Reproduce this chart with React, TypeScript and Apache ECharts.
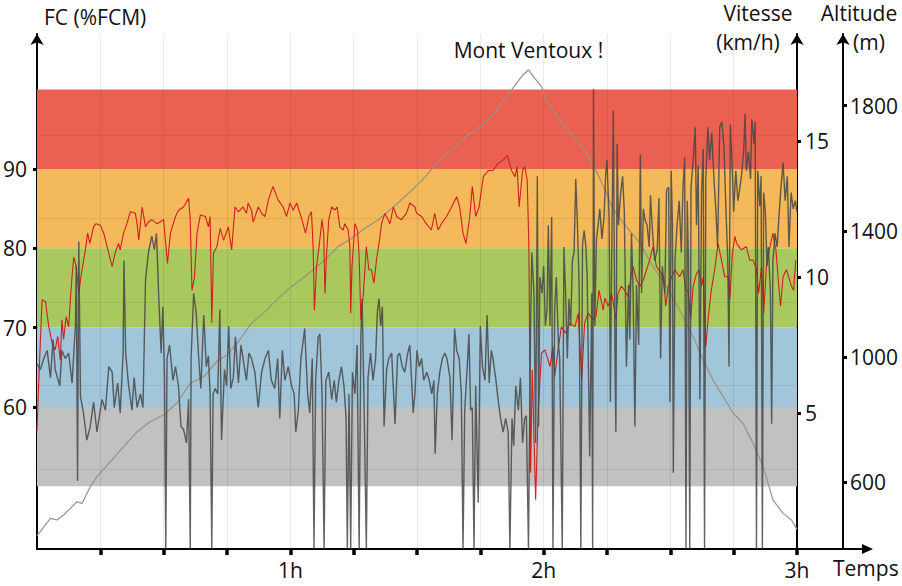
import { useEffect, useRef } from "react";
import * as echarts from "echarts";

const FONT = "'Open Sans', 'Noto Sans', sans-serif";

const zoneBounds = [50, 60, 70, 80, 90, 100];
const zoneColors = ["#c1c1c1", "#a1c5d9", "#a9c95e", "#f3b95b", "#ea6152"];
const hrTicks = [60, 70, 80, 90];
const speedTicks = [5, 10, 15];
const altitudeTicks = [600, 1000, 1400, 1800];
const quarterTicks = [15, 30, 45, 60, 75, 90, 105, 120, 135, 150, 165, 180];
const hourTicks = [60, 120, 180];
const gridSteps = [1, 2, 3, 4, 5];

// [minutes, %FCM]
const heartRate: [number, number][] = [
  [0, 57], [0.4, 63], [1.2, 73.5], [2.0, 73.3], [2.8, 70.1], [3.6, 68.0], [4.3, 67.2], [4.9, 68.9], [5.5, 65.9], [5.9, 71.0],
  [6.3, 68.5], [6.9, 71.4], [7.5, 70.1], [7.9, 73.5], [8.3, 76.4], [8.7, 78.9], [9.3, 77.7], [9.9, 74.3], [10.5, 76.8], [11.4, 79.6],
  [12.0, 81.9], [12.5, 80.6], [13.4, 82.7], [14.0, 83.1], [15.0, 82.9], [15.8, 81.9], [16.6, 80.2], [17.4, 78.5], [17.8, 77.7], [18.5, 79.4],
  [19.3, 80.6], [19.7, 79.8], [20.5, 81.9], [21.3, 83.1], [22.1, 84.6], [23.3, 84.4], [23.7, 83.1], [24.1, 81.0], [24.9, 85.2], [25.7, 82.7],
  [26.4, 83.3], [27.2, 83.6], [28.4, 83.1], [30.0, 83.6], [30.4, 81.0], [30.9, 78.1], [31.6, 81.9], [32.8, 84.0], [33.5, 84.8], [34.7, 85.2],
  [35.9, 86.3], [36.3, 83.6], [36.7, 74.7], [37.3, 76.4], [37.9, 81.9], [38.7, 84.2], [39.9, 84.0], [40.6, 82.7], [41.0, 84.0], [41.4, 70.6],
  [41.8, 79.4], [42.6, 80.2], [43.4, 82.5], [44.2, 81.0],
  [45.3, 82.7], [46.1, 79.8], [46.9, 85.2], [47.7, 84.6], [48.8, 85.2], [49.6, 84.4], [50.0, 85.7], [50.8, 84.8], [51.2, 83.3], [52.4, 85.2],
  [53.2, 84.4], [54.0, 84.0], [54.8, 86.1], [55.9, 87.8], [57.1, 86.1], [58.3, 85.2], [59.1, 84.0], [59.9, 85.7], [60.7, 84.8], [61.5, 85.7],
  [62.3, 84.4], [63.0, 83.1], [63.6, 81.9], [64.4, 84.0], [65.0, 84.6], [65.4, 80.2], [65.7, 72.2], [66.2, 77.7], [66.8, 80.2], [67.5, 83.6],
  [67.9, 81.9], [68.2, 74.3], [68.6, 79.4], [69.1, 83.6], [69.8, 85.2], [70.5, 84.8], [71.1, 85.2], [71.7, 82.7], [72.5, 82.3], [72.9, 83.1],
  [73.7, 82.3], [74.1, 80.2], [74.3, 71.8], [74.6, 77.7], [75.3, 83.1], [75.9, 82.3], [76.3, 78.9], [76.7, 71.0], [77.3, 74.3], [78.0, 80.2],
  [78.6, 77.3], [79.2, 77.3], [79.8, 75.6], [80.4, 78.5], [81.0, 80.6], [81.6, 83.1], [82.4, 84.4], [83.6, 83.1], [84.4, 85.2], [85.2, 84.0],
  [86.3, 83.6], [87.5, 84.4], [88.3, 85.7],
  [89.5, 85.2], [89.9, 84.4], [91.1, 84.0], [91.9, 83.3], [93.4, 82.3], [94.2, 84.4], [95.0, 82.3], [95.8, 83.1], [97.0, 84.0], [98.2, 85.2],
  [99.4, 86.5], [100.1, 85.2], [100.9, 81.9], [101.6, 80.6], [102.5, 84.0], [103.1, 87.8], [103.9, 84.0], [104.7, 85.2], [105.7, 89.0], [106.9, 89.8],
  [108.0, 89.8], [109.2, 90.7], [110.4, 91.1], [111.4, 91.7], [112.4, 89.8], [113.2, 89.0], [113.7, 90.3], [114.2, 85.2], [115.0, 89.8], [115.5, 90.3],
  [116.1, 88.6], [116.5, 80.2], [116.7, 65.9], [116.9, 51.7], [117.3, 64.7], [117.7, 56.3], [118.1, 48.3], [118.7, 59.6], [119.5, 66.8], [120.3, 67.2],
  [121.5, 65.1], [122.2, 67.6], [122.6, 63.8], [123.4, 67.2], [124.2, 70.1], [125.2, 69.3], [126.2, 70.6], [127.4, 70.1], [128.2, 71.8], [129.0, 63.4],
  [129.7, 70.6], [130.5, 71.8], [131.7, 71.0], [132.4, 71.4], [133.1, 74.7],
  [134.1, 72.2], [134.5, 73.7], [135.3, 72.7], [136.1, 74.3], [136.5, 73.1], [137.1, 71.0], [137.6, 74.3], [138.4, 75.2], [139.2, 74.7], [140.0, 73.9],
  [140.8, 76.8], [141.2, 77.7], [142.0, 76.0], [142.8, 75.2], [143.6, 76.0], [145.1, 78.5], [145.9, 80.2], [146.7, 77.7], [147.9, 76.8], [148.5, 75.6],
  [148.9, 72.7], [149.5, 75.2], [150.3, 76.4], [151.1, 77.3], [152.2, 76.4], [153.0, 77.3], [153.7, 74.7], [154.2, 74.7], [154.8, 71.0], [155.4, 75.2],
  [156.2, 76.8], [156.8, 77.3], [157.4, 75.2], [157.8, 76.4], [158.4, 67.6], [159.0, 71.4], [159.7, 74.7], [160.5, 77.3], [161.3, 80.6], [162.1, 78.5],
  [162.9, 76.4], [163.7, 76.4], [164.1, 73.5], [164.7, 79.4], [165.3, 81.5], [165.7, 80.6], [166.8, 79.8], [168.0, 80.2], [168.8, 78.5], [169.6, 78.5],
  [170.4, 77.3], [170.9, 74.3], [171.6, 77.7], [172.1, 71.8], [172.8, 78.1], [173.6, 80.2], [174.3, 81.9], [175.0, 79.8], [175.5, 76.4], [176.1, 72.7],
  [176.7, 76.4], [177.5, 77.3], [178.7, 75.2], [179.2, 74.7], [179.7, 78.5],
];

// [minutes, km/h]
const speed: [number, number][] = [
  [0, 6.8], [0.8, 6.6], [1.6, 7.0], [2.4, 7.3], [3.2, 6.3], [3.8, 7.7], [4.3, 6.6], [5.4, 6.0], [5.9, 7.3], [6.7, 7.0],
  [7.5, 7.2], [8.3, 6.1], [9.1, 8.2], [9.3, 10.4], [9.6, 2.5], [9.9, 11.3], [10.3, 5.6], [11.0, 5.0], [11.8, 4.0], [12.6, 4.5],
  [13.4, 5.4], [14.2, 4.3], [15.4, 5.5], [16.2, 5.1], [17.0, 6.7], [17.8, 6.5], [18.3, 5.2], [19.1, 6.1], [19.7, 5.0], [20.4, 7.2],
  [20.6, 10.6], [21.0, 7.2], [21.7, 6.0], [22.5, 5.1], [23.0, 6.3], [23.7, 5.2], [24.5, 5.7], [25.1, 5.2], [25.7, 9.9], [26.4, 10.9],
  [27.2, 11.5], [27.8, 11.0], [28.3, 11.6], [28.8, 9.4], [29.4, 7.2], [29.8, 8.9], [30.2, 6.3], [30.5, 0], [30.8, 7.0], [31.4, 7.5],
  [32.2, 6.2], [32.8, 6.7], [33.5, 6.0], [34.1, 4.5], [34.7, 4.4], [35.4, 3.9], [35.9, 5.5], [36.3, 0], [36.5, 7.0], [37.1, 9.4],
  [37.7, 8.7], [38.3, 7.0], [38.8, 5.9], [39.5, 8.6], [40.1, 6.7], [40.6, 7.1], [41.0, 5.7], [41.4, 0], [41.7, 5.7], [42.2, 5.9],
  [42.8, 5.7], [43.3, 8.8], [43.7, 4.0], [44.4, 6.6],
  [44.9, 6.0], [45.4, 8.2], [45.9, 5.9], [46.5, 6.3], [47.0, 7.8], [47.7, 6.1], [48.3, 7.5], [48.8, 7.0], [49.6, 6.2], [50.2, 7.2],
  [50.8, 7.0], [51.6, 6.5], [52.4, 5.2], [53.2, 6.5], [54.0, 7.0], [54.8, 7.3], [55.5, 6.2], [56.3, 5.9], [57.0, 7.0], [57.5, 4.8],
  [58.1, 7.3], [58.7, 6.2], [59.5, 6.7], [60.3, 6.0], [60.9, 5.7], [61.3, 4.3], [61.9, 5.1], [62.5, 7.0], [63.0, 7.6], [63.4, 8.1],
  [64.1, 5.7], [64.6, 5.0], [65.2, 7.0], [65.6, 0], [66.0, 6.2], [66.6, 7.8], [67.0, 7.9], [67.5, 5.7], [68.0, 0], [68.4, 6.2],
  [69.1, 6.5], [69.8, 5.5], [70.4, 6.2], [70.9, 5.4], [71.5, 6.2], [72.1, 6.7], [72.7, 6.0], [73.2, 4.8], [73.5, 0], [73.9, 5.7],
  [74.3, 0], [74.7, 6.5], [75.3, 5.7], [75.8, 7.5], [76.3, 0], [76.7, 7.8], [77.0, 9.2], [77.5, 5.0], [78.0, 0], [78.4, 6.3],
  [79.0, 7.2], [79.6, 6.2], [80.2, 7.0], [80.6, 8.7], [81.0, 9.2], [81.4, 8.2], [81.8, 8.9], [82.2, 4.5], [82.8, 6.6], [83.3, 7.0],
  [84.0, 7.2], [84.8, 4.6], [85.4, 7.1], [85.9, 7.2], [86.5, 6.7], [87.1, 6.5], [87.8, 7.2], [88.3, 7.5], [89.1, 5.0],
  [89.5, 5.7], [90.0, 7.3], [90.5, 6.7], [91.1, 7.0], [91.6, 6.2], [92.3, 6.5], [92.9, 6.2], [93.5, 5.7], [94.0, 6.2], [94.3, 3.5],
  [94.8, 5.7], [95.4, 6.5], [96.0, 7.0], [96.6, 7.2], [97.1, 7.0], [97.8, 6.3], [98.3, 4.0], [98.9, 8.1], [99.4, 7.3], [100.0, 7.0],
  [100.5, 5.7], [100.9, 0], [101.3, 5.1], [101.9, 6.7], [102.3, 7.9], [102.7, 5.1], [103.1, 5.2], [103.5, 0], [103.9, 6.0], [104.5, 1.7],
  [105.0, 8.2], [105.5, 6.7], [106.1, 6.2], [106.6, 8.6], [107.1, 6.1], [107.6, 7.3], [108.0, 7.0], [108.7, 6.2], [109.2, 5.5], [109.8, 4.8],
  [110.4, 4.3], [111.0, 4.8], [111.6, 4.3], [112.0, 0], [112.5, 4.8], [112.9, 3.8], [113.4, 6.0], [114.0, 5.1], [114.5, 6.3], [115.0, 3.9],
  [115.5, 4.8], [115.9, 4.9], [116.4, 0], [116.9, 8.2], [117.2, 10.9], [117.7, 9.4], [118.1, 3.9], [118.5, 13.7], [118.8, 4.5], [119.1, 10.0],
  [119.6, 9.4], [120.0, 10.4], [120.4, 8.2], [120.8, 8.8], [121.1, 11.9], [121.5, 8.2], [121.9, 12.2], [122.2, 0], [122.6, 8.8], [123.0, 10.0],
  [123.5, 7.5], [123.8, 7.0], [124.4, 0], [124.8, 11.1], [125.2, 9.4], [125.6, 7.0], [126.0, 9.2], [126.4, 8.2], [126.8, 10.6], [127.2, 10.9],
  [127.6, 13.6], [128.0, 11.9], [128.4, 9.7], [128.8, 0], [129.2, 11.2], [129.6, 11.7], [130.0, 11.1], [130.3, 10.0], [130.9, 3.4], [131.4, 9.4],
  [131.6, 0], [131.8, 16.9], [132.1, 8.2], [132.5, 11.4], [132.9, 11.9], [133.3, 12.5], [133.8, 11.4],
  [134.3, 12.2], [134.7, 13.8], [135.0, 14.3], [135.5, 12.1], [135.8, 5.4], [136.1, 10.6], [136.5, 16.1], [136.9, 6.8], [137.1, 4.3], [137.4, 14.9],
  [137.7, 11.9], [138.2, 13.0], [138.7, 13.7], [139.1, 12.4], [139.6, 6.7], [140.1, 9.7], [140.4, 7.7], [140.8, 11.6], [141.2, 9.4], [141.6, 4.5],
  [142.0, 9.7], [142.5, 7.5], [142.9, 14.5], [143.2, 9.4], [143.6, 12.5], [144.0, 12.1], [144.5, 11.9], [145.0, 11.1], [145.3, 13.0], [145.8, 11.6],
  [146.3, 10.6], [146.9, 11.0], [147.3, 12.9], [147.7, 7.0], [148.1, 10.4], [148.7, 9.4], [149.1, 13.2], [149.6, 13.3], [149.9, 5.4], [150.2, 13.9],
  [150.5, 11.9], [150.7, 2.8], [151.1, 10.6], [151.6, 11.9], [152.1, 12.8], [152.6, 10.9], [153.0, 13.3], [153.4, 14.4], [153.7, 0], [154.0, 12.8],
  [154.3, 10.6], [154.6, 0], [154.9, 13.3], [155.4, 14.3], [155.9, 15.5], [156.2, 11.9], [156.6, 14.1], [157.0, 5.5], [157.4, 13.1], [157.8, 14.7],
  [158.1, 0], [158.4, 13.6], [158.9, 15.5], [159.3, 14.3], [159.8, 15.3], [160.3, 13.7], [160.8, 12.4], [161.2, 11.1], [161.7, 15.5], [162.2, 15.7],
  [162.7, 14.8], [163.1, 12.8], [163.6, 10.6], [163.9, 6.7], [164.2, 15.6], [164.6, 14.3], [165.0, 12.4], [165.5, 13.9], [166.0, 12.8], [166.5, 13.3],
  [166.9, 13.8], [167.4, 14.7], [167.7, 16.0], [168.0, 13.9], [168.5, 14.6], [169.0, 13.6], [169.3, 15.8], [169.8, 14.9], [170.1, 15.7], [170.4, 0],
  [170.7, 13.9], [171.2, 12.6], [171.5, 13.7], [171.8, 0], [172.1, 13.1], [172.5, 12.4], [172.9, 10.4], [173.2, 11.1], [173.7, 9.5], [174.0, 4.6],
  [174.3, 10.6], [174.8, 11.6], [175.3, 11.1], [175.8, 12.4], [176.2, 13.3], [176.7, 14.2], [177.2, 12.8], [177.7, 13.7], [178.1, 11.1], [178.6, 13.1],
  [179.1, 12.5], [179.6, 12.8], [180.0, 12.4],
];

// [minutes, m]
const altitude: [number, number][] = [
  [0, 430], [3.2, 485], [4.7, 480], [6.3, 496], [7.9, 517], [9.5, 538], [10.7, 533], [12.6, 586], [14.2, 618], [17.4, 666],
  [20.5, 714], [23.7, 761], [26.8, 793], [30.0, 815], [33.1, 852], [36.3, 915], [39.5, 937], [42.6, 985], [45.0, 1006], [47.7, 1048],
  [50.8, 1107], [54.0, 1144], [57.1, 1186], [60.3, 1224], [63.4, 1255], [65.8, 1282], [68.2, 1309], [71.3, 1351], [74.5, 1378], [77.6, 1409],
  [80.8, 1436], [84.0, 1473], [87.1, 1510], [89.5, 1540], [92.3, 1579], [95.4, 1627], [98.6, 1664], [101.7, 1702], [104.9, 1733], [108.0, 1771],
  [111.2, 1829], [113.6, 1872], [115.1, 1898], [116.4, 1914], [117.9, 1887], [119.5, 1861], [120.7, 1813], [123.8, 1755], [127.0, 1702], [130.1, 1648],
  [132.5, 1590], [134.1, 1545], [136.5, 1468], [139.6, 1415], [142.8, 1362], [145.9, 1287], [149.1, 1224], [152.2, 1149], [155.4, 1064], [157.8, 990],
  [160.1, 926], [162.5, 873], [164.9, 820], [167.2, 788], [169.6, 724], [172.0, 650], [174.3, 544], [176.7, 501], [178.7, 480], [180.0, 450],
];

const labelStyle = { fontSize: 21, color: "#111", fontFamily: FONT };
const blackLine = { color: "#000", width: 2 };
const tickStyle = { color: "#000", width: 3 };
const plain = (v: number) => String(v);

function textEl(text: string, x: number, y: number, align: string) {
  return {
    type: "text",
    x,
    y,
    silent: true,
    style: {
      text,
      fill: "#111",
      fontSize: 21,
      fontFamily: FONT,
      align,
      verticalAlign: "middle",
      textAlign: align,
      textVerticalAlign: "middle",
    },
  };
}

export default function App() {
  const ref = useRef<HTMLDivElement>(null);

  useEffect(() => {
    if (!ref.current) return;
    const chart = echarts.init(ref.current, undefined, { renderer: "svg" });
    chart.setOption({
      animation: false,
      backgroundColor: "#fff",
      grid: { left: 37, right: 105, top: 34, bottom: 37, containLabel: false, outerBoundsMode: "none" },
      xAxis: {
        type: "value",
        min: 0,
        max: 180,
        interval: 15,
        z: 2,
        axisLine: { show: true, lineStyle: blackLine },
        axisTick: { show: true, customValues: quarterTicks, length: 6, lineStyle: { color: "#000", width: 3.5 } },
        axisLabel: {
          customValues: hourTicks,
          formatter: (v: number) => (hourTicks.includes(v) ? `${v / 60}h` : ""),
          margin: 10,
          ...labelStyle,
        },
        splitLine: { show: true, lineStyle: { color: "rgba(0,0,0,0.08)", width: 1 } },
      },
      yAxis: [
        {
          type: "value",
          position: "left",
          min: 42.1,
          max: 107,
          axisLine: { show: true, lineStyle: blackLine, symbol: ["none", "arrow"], symbolSize: [10, 11] },
          axisTick: { show: true, customValues: hrTicks, length: 4, lineStyle: tickStyle },
          axisLabel: { customValues: hrTicks, margin: 10, formatter: plain, ...labelStyle },
          splitLine: { show: false },
        },
        {
          type: "value",
          position: "right",
          min: 0,
          max: 18.93,
          axisLine: { show: true, lineStyle: blackLine, symbol: ["none", "arrow"], symbolSize: [10, 11] },
          axisTick: { show: true, customValues: speedTicks, length: 4, lineStyle: tickStyle },
          axisLabel: { customValues: speedTicks, margin: 8, formatter: plain, ...labelStyle },
          splitLine: { show: false },
        },
        {
          type: "value",
          position: "right",
          offset: 46,
          min: 387.5,
          max: 2028.5,
          axisLine: { show: true, lineStyle: blackLine, symbol: ["none", "arrow"], symbolSize: [10, 11] },
          axisTick: { show: true, customValues: altitudeTicks, length: 4, lineStyle: tickStyle },
          axisLabel: { customValues: altitudeTicks, margin: 7, formatter: plain, ...labelStyle },
          splitLine: { show: false },
        },
        {
          type: "value",
          position: "left",
          min: 0.042,
          max: 6.21,
          z: 2,
          axisLine: { show: false },
          axisTick: { show: false, customValues: gridSteps },
          axisLabel: { show: false, customValues: gridSteps },
          splitLine: { show: true, lineStyle: { color: "rgba(0,0,0,0.07)", width: 1 } },
        },
      ],
      series: [
        {
          name: "zones",
          type: "line",
          yAxisIndex: 0,
          data: [],
          silent: true,
          z: 1,
          markArea: {
            silent: true,
            z: 1,
            data: zoneColors.map((c, i) => [
              { xAxis: 0, yAxis: zoneBounds[i], itemStyle: { color: c, opacity: 1 } },
              { xAxis: 180, yAxis: zoneBounds[i + 1] },
            ]),
          },
        },
        {
          name: "Altitude",
          type: "line",
          yAxisIndex: 2,
          data: altitude,
          showSymbol: false,
          symbol: "none",
          z: 3,
          lineStyle: { color: "#9d8f80", width: 1.2 },
          markPoint: {
            symbol: "circle",
            symbolSize: 1,
            itemStyle: { color: "rgba(0,0,0,0)" },
            data: [{ type: "max", name: "peak" }],
            label: {
              show: true,
              position: "top",
              distance: 9,
              formatter: "Mont Ventoux !",
              ...labelStyle,
            },
          },
        },
        {
          name: "FC",
          type: "line",
          yAxisIndex: 0,
          data: heartRate,
          showSymbol: false,
          symbol: "none",
          z: 4,
          lineStyle: { color: "#d01f1f", width: 1.1 },
        },
        {
          name: "Vitesse",
          type: "line",
          yAxisIndex: 1,
          data: speed,
          showSymbol: false,
          symbol: "none",
          z: 5,
          lineStyle: { color: "rgba(70,70,70,0.85)", width: 1.4 },
        },
      ],
      graphic: [
        textEl("FC (%FCM)", 44, 17, "left"),
        textEl("Vitesse", 758, 13, "center"),
        textEl("(km/h)", 748, 42, "center"),
        textEl("Altitude", 859, 13, "center"),
        textEl("(m)", 869, 42, "center"),
        textEl("Temps", 833, 568, "left"),
        {
          type: "line",
          silent: true,
          shape: { x1: 797, y1: 549, x2: 866, y2: 549 },
          style: { stroke: "#000", lineWidth: 2 },
        },
        {
          type: "polygon",
          silent: true,
          shape: { points: [[862, 544], [873, 549], [862, 554]] },
          style: { fill: "#000" },
        },
      ],
    });
    return () => chart.dispose();
  }, []);

  return (
    <div
      ref={ref}
      style={{ position: "absolute", left: 0, top: 0, width: 902, height: 586 }}
    />
  );
}
